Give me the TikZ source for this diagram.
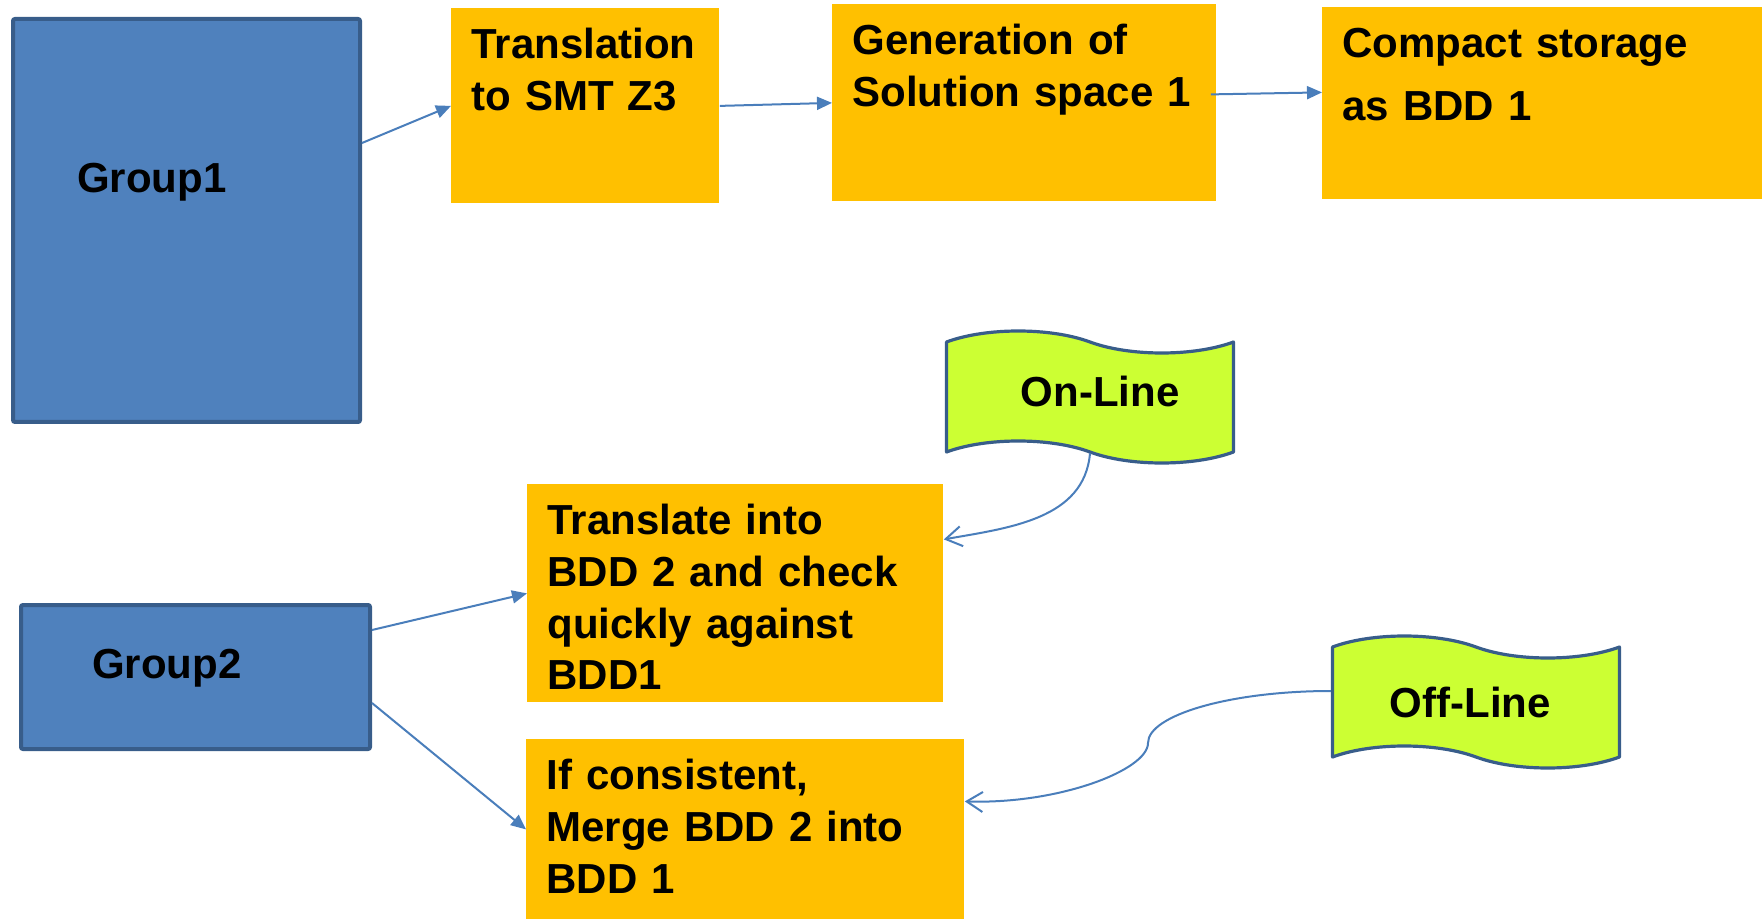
\documentclass[tikz,border=0pt]{standalone}
\usepackage{fontspec}
\setmainfont{Liberation Sans}
\usepackage{xcolor}
\usetikzlibrary{arrows.meta,shapes.symbols}
\definecolor{grpblue}{HTML}{4F81BD}
\definecolor{grpline}{HTML}{385D8A}
\definecolor{stepgold}{HTML}{FFC000}
\definecolor{tapegreen}{HTML}{CCFF33}
\definecolor{linkblue}{HTML}{4A7EBB}

\begin{document}
\begin{tikzpicture}[x=0.5pt,y=0.5pt,
  every node/.style={font=\fontsize{21pt}{25.8pt}\selectfont\bfseries},
  grp/.style={draw=grpline,fill=grpblue,line width=2pt,rounded corners=1pt,anchor=north west,align=left,inner ysep=0pt},
  stepbox/.style={fill=stepgold,anchor=north west,align=left,inner xsep=10pt,inner ysep=0pt,text height=25.25pt},
  medium/.style={tape,tape bend top=out and in,tape bend bottom=out and in,draw=grpline,fill=tapegreen,
    line width=1.6pt,line join=round,minimum width=143.5pt,minimum height=66pt,tape bend height=11pt},
  flow/.style={draw=linkblue,line width=1pt,-{Triangle[length=7.5pt,width=6.5pt]}},
  feed/.style={draw=linkblue,line width=1pt,-{Straight Barb[length=8pt,width=10pt]}}]
  \useasboundingbox (0,0) rectangle (1762,-919);

  % groups
  \node[grp,text width=109.5pt,inner xsep=32pt,text height=87pt,text depth=114.5pt] (g1) at (11,-17) {Group1};
  \node[grp,text width=103.5pt,inner xsep=35.5pt,text height=36.5pt,text depth=35.5pt] (g2) at (19,-603) {Group2};

  % steps
  \node[stepbox,text width=114pt,text depth=72.25pt] (trans) at (451,-8) {Translation\\to SMT Z3};
  \node[stepbox,text width=172pt,text depth=73.25pt] (gen) at (832,-4) {Generation of\\Solution space 1};
  \node[stepbox,text width=200pt,text depth=70.75pt] (store) at (1322,-7) {Compact storage\\[5.7pt]as BDD 1};
  \node[stepbox,text width=188pt,text depth=83.75pt] (check) at (527,-484) {Translate into\\BDD 2 and check\\quickly against\\BDD1};
  \node[stepbox,text width=199pt,text depth=64.75pt] (merge) at (526,-739) {If consistent,\\Merge BDD 2 into\\BDD 1};

  % modes
  \node[medium,text depth=5.6pt] (online) at (1090,-397) {\hspace*{10pt}On-Line};
  \node[medium] (offline) at (1476,-702) {Off-Line\hspace*{5.6pt}};

  \draw[flow] ([yshift=38.75pt]g1.east) -- (trans.west);
  \draw[flow] (trans.east) -- (gen.west);
  \draw[flow] ([xshift=-3pt,yshift=4.25pt]gen.east) -- ([yshift=5.5pt]store.west);
  \draw[flow] ([yshift=23.5pt]g2.east) -- (check.west);
  \draw[flow] ([yshift=-13pt]g2.east) -- (merge.west);
  \draw[feed] (online.south) to[out=-95,in=10] ([yshift=27pt]check.east);
  \draw[feed] ([yshift=5.5pt]offline.west) .. controls +(-100,0) and +(0,28) .. (1148,-743)
        .. controls +(0,-27) and +(94,-3) .. ([yshift=14pt]merge.east);
\end{tikzpicture}
\end{document}
